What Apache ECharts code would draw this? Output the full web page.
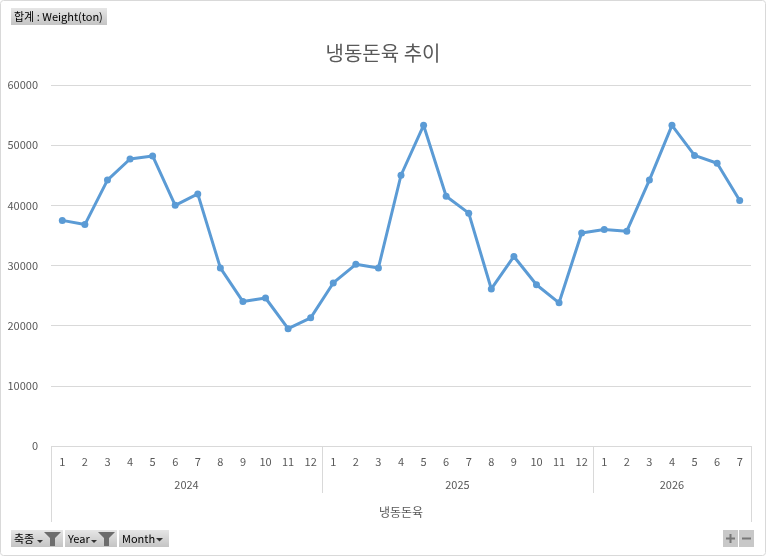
<!DOCTYPE html>
<html>
<head>
<meta charset="utf-8">
<script src="https://cdn.jsdelivr.net/npm/echarts@6/dist/echarts.min.js"></script>
<style>
    html, body { margin: 0; padding: 0; background: #fff; }
    #main { width: 766px; height: 556px; }
</style>
</head>
<body>
<div id="main"></div>
<script>
// 데이터
var years = ['2024', '2025', '2026'];
var monthsPerYear = [12, 12, 7];
var months = ['1','2','3','4','5','6','7','8','9','10','11','12',
              '1','2','3','4','5','6','7','8','9','10','11','12',
              '1','2','3','4','5','6','7'];
var weight = [37500, 36800, 44200, 47700, 48200, 40000, 41900, 29600, 24000, 24600, 19500, 21300,
              27100, 30200, 29600, 45000, 53300, 41500, 38700, 26100, 31500, 26800, 23800, 35400,
              36000, 35700, 44200, 53300, 48300, 47000, 40800];
var yTicks = [0, 10000, 20000, 30000, 40000, 50000, 60000];

// 연도 경계/가운데 위치 (카테고리 단위)
var yearEdges = [0];
var yearMids = [];
monthsPerYear.forEach(function(n, i){
    var start = yearEdges[i];
    yearEdges.push(start + n);
    yearMids.push(start + n / 2);
});
var total = yearEdges[yearEdges.length - 1];

var textColor = '#595959';
var gridColor = '#d9d9d9';
var font = '"Noto Sans CJK KR", "Noto Sans", sans-serif';

function button(x, y, w, label, withFilter, withArrow){
    var kids = [{
        type: 'rect',
        shape: { x: 0, y: 0, width: w, height: 17 },
        style: {
            fill: new echarts.graphic.LinearGradient(0, 0, 0, 1, [
                {offset: 0, color: '#e6e6e6'},
                {offset: 1, color: '#c4c4c4'}
            ])
        }
    }, {
        type: 'text',
        x: 3, y: 9,
        style: { text: label, fill: '#000', font: '11px ' + font, verticalAlign: 'middle' }
    }];
    if (withFilter) {
        kids.push({
            type: 'polygon',
            shape: { points: [[w - 19, 2], [w - 2, 2], [w - 8, 8], [w - 8, 16], [w - 13, 16], [w - 13, 8]] },
            style: { fill: '#6d6d6d' }
        });
        kids.push({
            type: 'polygon',
            shape: { points: [[w - 26, 10], [w - 20, 10], [w - 23, 13]] },
            style: { fill: '#333' }
        });
    } else if (withArrow) {
        kids.push({
            type: 'polygon',
            shape: { points: [[w - 13, 8], [w - 6, 8], [w - 9.5, 11.5]] },
            style: { fill: '#333' }
        });
    }
    return { type: 'group', x: x, y: y, children: kids };
}

var chart = echarts.init(document.getElementById('main'));

var option = {
    animation: false,
    textStyle: { fontFamily: font },
    title: {
        text: '냉동돈육 추이',
        left: 'center',
        top: 38,
        textStyle: { color: textColor, fontSize: 20, fontWeight: 'normal', fontFamily: font }
    },
    grid: { left: 51, right: 15, top: 85, bottom: 110 },
    xAxis: [{
        type: 'category',
        data: months,
        axisLine: { show: false },
        axisTick: { show: false },
        axisLabel: { color: textColor, fontSize: 11, margin: 10, interval: 0 }
    }, {
        // 연도 라벨과 구분선
        type: 'value',
        min: 0,
        max: total,
        position: 'bottom',
        axisLine: { show: false },
        splitLine: { show: false },
        axisTick: {
            show: true,
            customValues: yearEdges,
            length: 47,
            lineStyle: { color: gridColor }
        },
        axisLabel: {
            customValues: yearMids,
            margin: 33,
            color: textColor,
            fontSize: 11,
            formatter: function(v){
                return years[yearMids.indexOf(v)] || '';
            }
        },
        name: '냉동돈육',
        nameLocation: 'middle',
        nameGap: 60,
        nameTextStyle: { color: textColor, fontSize: 12, fontFamily: font }
    }, {
        // 바깥 테두리 선
        type: 'value',
        min: 0,
        max: total,
        position: 'bottom',
        axisLine: { show: false },
        splitLine: { show: false },
        axisLabel: { show: false },
        axisTick: {
            show: true,
            customValues: [0, total],
            length: 76,
            lineStyle: { color: gridColor }
        }
    }],
    yAxis: {
        type: 'value',
        min: yTicks[0],
        max: yTicks[yTicks.length - 1],
        interval: yTicks[1] - yTicks[0],
        axisLine: { show: false },
        axisTick: { show: false },
        axisLabel: {
            color: textColor, fontSize: 11, margin: 13,
            formatter: function(v){ return String(v); }
        },
        splitLine: { lineStyle: { color: gridColor } }
    },
    series: [{
        name: 'Weight(ton)',
        type: 'line',
        data: weight,
        xAxisIndex: 0,
        symbol: 'circle',
        symbolSize: 7,
        lineStyle: { color: '#5b9bd5', width: 3 },
        itemStyle: { color: '#5b9bd5' }
    }],
    graphic: [
        {
            type: 'rect',
            shape: { x: 0.5, y: 0.5, width: 765, height: 555, r: 3 },
            style: { fill: 'none', stroke: '#d9d9d9', lineWidth: 1 },
            silent: true
        },
        button(11, 8, 96, '합계 : Weight(ton)', false, false),
        button(11, 530, 52, '축종', true, false),
        button(65, 530, 52, 'Year', true, false),
        button(119, 530, 50, 'Month', false, true),
        {
            type: 'group', x: 723, y: 530,
            children: [
                { type: 'rect', shape: { x: 0, y: 0, width: 15, height: 17 }, style: { fill: '#c8c8c8' } },
                { type: 'rect', shape: { x: 16, y: 0, width: 15, height: 17 }, style: { fill: '#c8c8c8' } },
                { type: 'rect', shape: { x: 3, y: 7.5, width: 9, height: 2 }, style: { fill: '#777' } },
                { type: 'rect', shape: { x: 6.5, y: 4, width: 2, height: 9 }, style: { fill: '#777' } },
                { type: 'rect', shape: { x: 19, y: 7.5, width: 9, height: 2 }, style: { fill: '#777' } }
            ]
        }
    ]
};

chart.setOption(option);
</script>
</body>
</html>
